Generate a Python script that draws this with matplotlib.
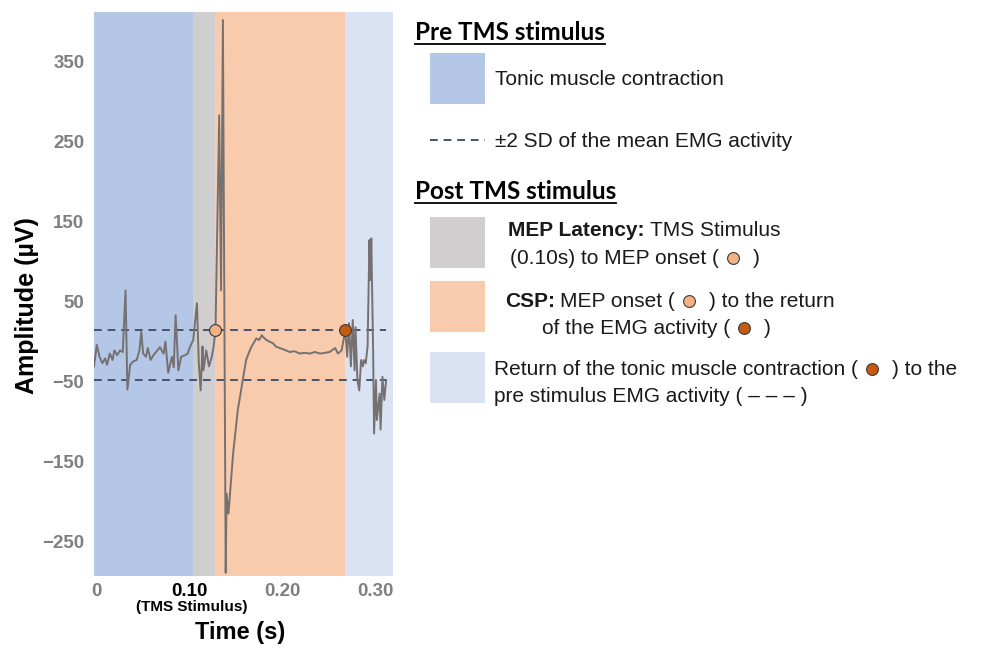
import matplotlib.pyplot as plt
from matplotlib.lines import Line2D
from matplotlib.patches import Rectangle

plt.rcParams['font.family'] = ['Liberation Sans', 'DejaVu Sans']

# EMG trace (time in s, amplitude in uV)
time_s = [-0.003, 0.000, 0.003, 0.006, 0.009, 0.011, 0.014, 0.017, 0.019, 0.022,
          0.025, 0.028, 0.031, 0.033, 0.036, 0.039, 0.043, 0.046, 0.048, 0.050,
          0.053, 0.055, 0.058, 0.061, 0.064, 0.068, 0.072, 0.074, 0.077, 0.081,
          0.083, 0.085, 0.088, 0.091, 0.095, 0.098, 0.100, 0.104, 0.108, 0.110,
          0.112, 0.114, 0.115, 0.118, 0.121, 0.124, 0.126, 0.128, 0.132, 0.134,
          0.136, 0.139, 0.140, 0.142, 0.144, 0.147, 0.152, 0.158, 0.161, 0.165,
          0.167, 0.172, 0.175, 0.178, 0.180, 0.183, 0.186, 0.190, 0.193, 0.197,
          0.202, 0.208, 0.213, 0.219, 0.224, 0.230, 0.235, 0.241, 0.246, 0.251,
          0.257, 0.260, 0.264, 0.268, 0.270, 0.272, 0.274, 0.276, 0.278, 0.279,
          0.281, 0.283, 0.285, 0.287, 0.288, 0.290, 0.292, 0.294, 0.295, 0.296,
          0.298, 0.299, 0.301, 0.302, 0.305, 0.306, 0.308, 0.310, 0.312]
amp_uv = [-31, -4, -19, -27, -21, -29, -15, -23, -11, -17,
          -11, -13, 64, -60, -29, -25, -23, -11, 12, -15,
          -19, -8, -23, -17, -13, -7, -15, 0, -39, -19,
          -32, 33, -36, -19, -17, -15, -8, 2, 48, -27,
          -61, -6, -36, -11, -31, -19, -6, 14, 283, 64,
          402, -289, -190, -215, -185, -140, -86, -44, -23, -11,
          -6, 4, 2, 8, 5, 2, 0, -2, -6, -8,
          -10, -13, -12, -15, -14, -15, -13, -15, -14, -13,
          -8, -15, -11, 14, -19, 23, -31, 27, -36, 18,
          -48, -61, -23, -31, -23, -27, -6, 127, 77, 129,
          -15, -115, -48, -98, -65, -110, -44, -73, -48]

# phases of the recording (s)
stim_t = 0.104
onset_t = 0.128
return_t = 0.268
end_t = 0.3194

# +-2 SD band of the pre stimulus activity (uV)
sd_upper = 14
sd_lower = -48

yticks = [350, 250, 150, 50, -50, -150, -250]
xticks = [0, 0.10, 0.20, 0.30]
xtick_labels = ['0', '0.10', '0.20', '0.30']

pre_blue = '#b4c7e7'
lat_gray = '#d0cece'
csp_orange = '#f8cbad'
ret_blue = '#dae3f3'
onset_col = '#f4b183'
return_col = '#c55a11'
dash_col = '#44546a'
tick_gray = '#808080'

W, H = 991, 657
fig = plt.figure(figsize=(W / 100, H / 100), dpi=100)


def fx(px):
    return px / W


def fy(py):
    return 1 - py / H


ax = fig.add_axes([fx(94), fy(576), (393 - 94) / W, (576 - 12) / H])
ax.axvspan(time_s[0], stim_t, color=pre_blue, lw=0)
ax.axvspan(stim_t, onset_t, color=lat_gray, lw=0)
ax.axvspan(onset_t, return_t, color=csp_orange, lw=0)
ax.axvspan(return_t, end_t, color=ret_blue, lw=0)

ax.hlines([sd_upper, sd_lower], time_s[0], time_s[-1], colors=dash_col,
          linestyles=(0, (4, 3)), lw=1.4, zorder=2)
ax.plot(time_s, amp_uv, color='#767171', lw=1.4, zorder=3)
ax.plot([onset_t], [sd_upper], 'o', ms=8.5, mfc=onset_col, mec='#3a3a3a', mew=0.8, zorder=4)
ax.plot([return_t], [sd_upper], 'o', ms=8.5, mfc=return_col, mec='#3a3a3a', mew=0.8, zorder=4)

ax.set_xlim(time_s[0], end_t)
ax.set_ylim(-293, 412)
ax.set_yticks(yticks)
ax.set_yticklabels([str(v).replace('-', '\u2212') for v in yticks])
ax.set_xticks(xticks)
ax.set_xticklabels(xtick_labels)
ax.tick_params(length=0, labelsize=13.5, labelcolor=tick_gray)
ax.tick_params(axis='x', pad=5)
ax.tick_params(axis='y', pad=7)
for lab in ax.get_xticklabels() + ax.get_yticklabels():
    lab.set_fontweight('bold')
ax.get_xticklabels()[1].set_color('black')
for s in ax.spines.values():
    s.set_visible(False)

fig.text(fx(192), fy(607), '(TMS Stimulus)', fontsize=11, fontweight='bold',
         ha='center', va='center')
fig.text(fx(240), fy(633), 'Time (s)', fontsize=17, fontweight='bold',
         ha='center', va='center')
fig.text(fx(27), fy(306), 'Amplitude (\u00b5V)', fontsize=18, fontweight='bold',
         ha='center', va='center', rotation=90)

# ---- legend on the right ----
rend = fig.canvas.get_renderer()


def header(y, s):
    t = fig.text(fx(415), fy(y), s, fontsize=17.5, fontweight='bold',
                 family=['Lato', 'DejaVu Sans'], va='baseline')
    bb = t.get_window_extent(rend)
    fig.add_artist(Line2D([fx(bb.x0), fx(bb.x1)], [fy(y + 4)] * 2,
                          transform=fig.transFigure, color='black', lw=1.3))


def swatch(y0, col):
    fig.add_artist(Rectangle((fx(430), fy(y0 + 51)), 55 / W, 51 / H,
                             transform=fig.transFigure, color=col, lw=0))


def inline(x, y, parts):
    # parts: ('bold' | 'normal', text) or ('dot', colour); y is the baseline
    for kind, val in parts:
        if kind == 'dot':
            x += 14
            fig.add_artist(Line2D([fx(x)], [fy(y - 6)], transform=fig.transFigure,
                                  marker='o', ms=8.5, mfc=val, mec='#3a3a3a',
                                  mew=0.8, ls=''))
            x += 20
        else:
            if val.startswith(' '):
                x += 5
                val = val.lstrip()
            t = fig.text(fx(x), fy(y), val, fontsize=15, fontweight=kind,
                         color='#1a1a1a', va='baseline')
            x = t.get_window_extent(rend).x1


header(40, 'Pre TMS stimulus')
swatch(53, pre_blue)
inline(495, 85, [('normal', 'Tonic muscle contraction')])
fig.add_artist(Line2D([fx(430), fx(485)], [fy(140)] * 2, transform=fig.transFigure,
                      color=dash_col, lw=1.4, ls=(0, (4, 3))))
inline(495, 147, [('normal', '\u00b12 SD of the mean EMG activity')])

header(199, 'Post TMS stimulus')
swatch(217, lat_gray)
inline(508, 236, [('bold', 'MEP Latency:'), ('normal', ' TMS Stimulus')])
inline(510, 264, [('normal', '(0.10s) to MEP onset ('), ('dot', onset_col), ('normal', ')')])
swatch(281, csp_orange)
inline(505, 307, [('bold', 'CSP:'), ('normal', ' MEP onset ('), ('dot', onset_col),
                  ('normal', ') to the return')])
inline(542, 334, [('normal', 'of the EMG activity ('), ('dot', return_col), ('normal', ')')])
swatch(352, ret_blue)
inline(494, 375, [('normal', 'Return of the tonic muscle contraction ('), ('dot', return_col),
                  ('normal', ') to the')])
inline(494, 402, [('normal', 'pre stimulus EMG activity ( \u2013 \u2013 \u2013 )')])

fig.savefig('out.png', dpi=100)
